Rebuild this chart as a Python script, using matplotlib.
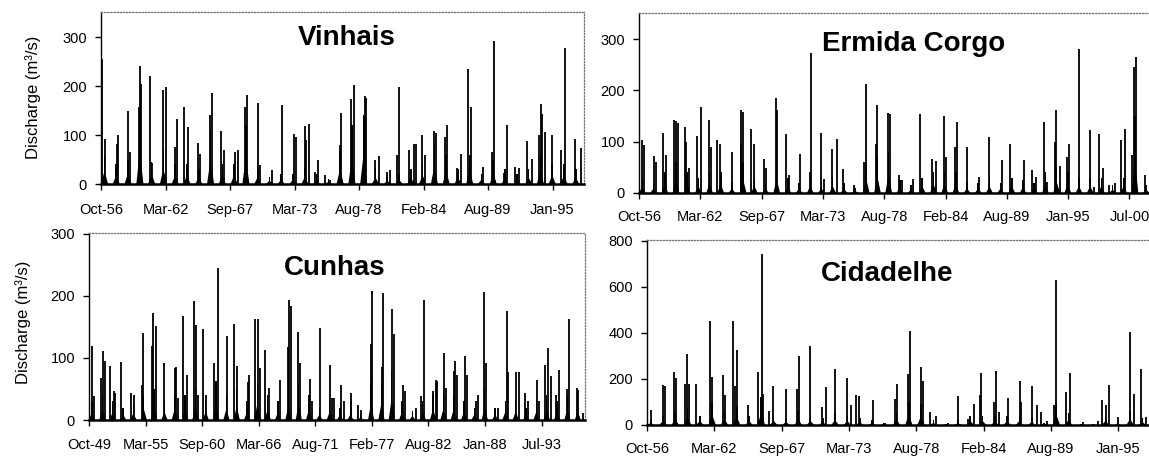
import numpy as np
import matplotlib
matplotlib.use("Agg")
import matplotlib.pyplot as plt

plt.rcParams['font.family'] = ['Liberation Sans', 'DejaVu Sans']

# ---- Vinhais (daily peaks, decimal year / m3/s) ----
vin_t = [1956.86, 1957.09, 1958.08, 1958.22, 1959.02, 1959.21, 1959.98, 1960.06, 1960.15, 1960.91,
         1961.06, 1962.05, 1962.25, 1963.04, 1963.18, 1963.83, 1964.17, 1965.02, 1965.16, 1966.01,
         1966.16, 1966.92, 1967.23, 1968.14, 1968.34, 1968.99, 1969.13, 1970.04, 1970.26, 1971.25,
         1972.10, 1973.10, 1973.32, 1974.03, 1974.14, 1974.43, 1974.88, 1975.16, 1975.73, 1976.21,
         1977.00, 1977.15, 1977.97, 1978.05, 1978.19, 1979.13, 1979.24, 1980.04, 1980.32, 1981.03,
         1981.25, 1981.88, 1982.08, 1982.93, 1983.35, 1983.49, 1984.00, 1984.29, 1984.99, 1985.19,
         1985.99, 1986.13, 1986.98, 1987.34, 1987.91, 1988.19, 1989.16, 1989.95, 1990.09, 1990.94,
         1991.23, 1991.93, 1992.22, 1992.93, 1993.35, 1993.92, 1994.06, 1994.20, 1994.48, 1995.05,
         1995.76, 1996.13, 1996.98, 1997.46]
vin_q = [255, 92, 82, 101, 148, 65, 157, 241, 204, 221,
         42, 192, 197, 76, 133, 157, 116, 84, 62, 140,
         185, 108, 70, 66, 69, 157, 182, 165, 38, 28,
         161, 103, 95, 118, 89, 123, 25, 50, 18, 8,
         79, 145, 174, 82, 203, 180, 176, 49, 57, 25,
         28, 59, 197, 70, 82, 81, 99, 59, 108, 104,
         96, 120, 32, 62, 234, 158, 35, 65, 292, 22,
         120, 35, 32, 88, 52, 99, 164, 143, 106, 99,
         69, 277, 92, 74]
# winter base flow level per hydrological year (Oct-56 ...)
vin_base = [60, 40, 50, 150, 45, 70, 40, 40, 30, 110, 40, 40, 120, 30, 15, 20, 20, 30, 20, 10,
            70, 120, 140, 30, 15, 20, 30, 40, 80, 60, 30, 60, 20, 50, 30, 20, 30, 60, 40, 40, 30]

# ---- Ermida Corgo ----
erm_t = [1957.05, 1957.20, 1958.09, 1958.24, 1958.89, 1959.13, 1959.88, 1960.02, 1960.23, 1960.83,
         1960.98, 1961.21, 1961.90, 1962.26, 1963.00, 1963.15, 1963.74, 1963.95, 1965.08, 1965.83,
         1965.89, 1966.07, 1966.72, 1967.02, 1967.91, 1968.12, 1968.95, 1969.10, 1969.90, 1970.14,
         1971.10, 1971.99, 1972.14, 1972.97, 1973.27, 1974.01, 1974.40, 1974.99, 1975.95, 1976.84,
         1976.99, 1977.88, 1978.03, 1979.01, 1979.13, 1979.96, 1980.20, 1981.24, 1981.81, 1982.94,
         1983.30, 1983.98, 1984.13, 1984.96, 1985.17, 1986.07, 1987.11, 1988.00, 1989.13, 1989.93,
         1991.13, 1991.87, 1992.17, 1992.91, 1993.21, 1993.89, 1994.01, 1994.31, 1994.99, 1995.14,
         1996.04, 1996.99, 1997.38, 1997.88, 1998.21, 1998.71, 1999.25, 1999.76, 2000.14, 2000.80,
         2000.95, 2001.10, 2001.99]
erm_q = [103, 93, 72, 61, 117, 74, 143, 140, 137, 128,
         100, 48, 111, 168, 143, 90, 104, 95, 80, 96,
         161, 158, 124, 95, 67, 48, 186, 161, 116, 35,
         76, 41, 274, 117, 28, 85, 106, 46, 16, 61,
         212, 96, 171, 156, 155, 35, 25, 28, 155, 67,
         63, 150, 71, 89, 139, 90, 32, 109, 64, 95,
         64, 45, 32, 139, 22, 100, 162, 53, 71, 95,
         281, 122, 12, 115, 48, 16, 19, 104, 124, 74,
         245, 265, 35]
erm_base = [30, 20, 40, 60, 40, 30, 40, 40, 20, 60, 30, 20, 60, 30, 20, 30, 20, 30, 20, 10,
            60, 70, 80, 25, 15, 30, 40, 40, 40, 20, 20, 30, 20, 30, 25, 20, 40, 50, 40, 30,
            30, 30, 15, 30, 150, 15]

# ---- Cunhas ----
cun_t = [1950.07, 1950.20, 1950.95, 1951.11, 1951.27, 1951.82, 1952.14, 1952.24, 1952.89, 1953.86,
         1954.09, 1954.90, 1954.99, 1955.80, 1955.96, 1956.19, 1957.03, 1958.07, 1958.16, 1958.39,
         1958.88, 1959.20, 1959.91, 1960.07, 1960.33, 1960.82, 1961.08, 1961.89, 1962.02, 1962.27,
         1963.08, 1963.83, 1964.12, 1965.12, 1965.28, 1965.83, 1966.06, 1966.25, 1966.81, 1967.13,
         1968.20, 1968.97, 1969.14, 1969.30, 1969.98, 1970.14, 1971.11, 1971.34, 1972.14, 1973.05,
         1973.28, 1973.44, 1974.15, 1974.41, 1975.06, 1975.15, 1975.77, 1976.03, 1977.00, 1977.16,
         1978.07, 1978.20, 1979.10, 1979.26, 1980.14, 1980.30, 1981.37, 1981.92, 1982.18, 1983.08,
         1983.31, 1983.47, 1984.12, 1984.28, 1985.03, 1985.19, 1985.35, 1986.13, 1986.32, 1987.19,
         1987.42, 1988.00, 1988.16, 1989.30, 1990.20, 1990.33, 1991.08, 1991.34, 1991.95, 1992.27,
         1993.08, 1993.25, 1993.92, 1994.15, 1994.47, 1994.90, 1995.19, 1996.03, 1996.16, 1997.00,
         1997.06, 1997.55]
cun_q = [119, 38, 67, 111, 95, 87, 46, 44, 94, 43,
         40, 57, 140, 119, 172, 151, 91, 84, 86, 35,
         167, 73, 192, 153, 40, 146, 40, 92, 62, 245,
         135, 155, 87, 61, 72, 163, 162, 83, 112, 51,
         64, 118, 193, 183, 141, 91, 66, 30, 148, 89,
         35, 35, 57, 30, 30, 43, 24, 16, 123, 208,
         86, 204, 178, 139, 56, 46, 20, 38, 193, 46,
         64, 62, 108, 52, 79, 95, 72, 103, 72, 31,
         41, 206, 91, 20, 175, 78, 78, 78, 43, 31,
         64, 31, 89, 116, 71, 40, 80, 50, 163, 51,
         48, 11]
cun_base = [30, 40, 30, 20, 25, 40, 50, 30, 40, 40, 50, 30, 60, 40, 50, 30, 60, 40, 30, 50,
            60, 40, 20, 30, 20, 20, 10, 60, 60, 80, 30, 15, 30, 40, 40, 40, 30, 20, 50, 20,
            30, 30, 20, 30, 40, 30, 40, 30]

# ---- Cidadelhe ----
cid_t = [1957.05, 1958.02, 1958.21, 1958.95, 1959.11, 1959.84, 1960.03, 1960.19, 1960.73, 1961.87,
         1962.01, 1962.96, 1963.09, 1963.77, 1963.90, 1964.09, 1964.99, 1965.80, 1966.07, 1966.21,
         1966.70, 1967.02, 1968.05, 1968.92, 1969.11, 1970.00, 1970.95, 1971.28, 1972.03, 1972.98,
         1973.31, 1973.74, 1974.01, 1975.15, 1976.10, 1976.91, 1977.05, 1978.00, 1978.13, 1979.08,
         1979.22, 1979.76, 1980.25, 1981.25, 1982.06, 1982.87, 1983.34, 1983.82, 1983.96, 1984.96,
         1985.12, 1985.39, 1986.13, 1987.08, 1987.21, 1988.08, 1988.48, 1988.84, 1989.30, 1989.87,
         1990.00, 1990.87, 1991.19, 1992.22, 1993.44, 1993.80, 1994.07, 1994.34, 1995.07, 1996.02,
         1996.37, 1996.97, 1997.37]
cid_q = [63, 174, 171, 229, 203, 179, 308, 179, 177, 450,
         207, 218, 128, 450, 171, 327, 88, 232, 741, 135,
         59, 169, 154, 157, 298, 344, 78, 164, 241, 203,
         85, 131, 125, 107, 10, 114, 179, 222, 409, 251,
         189, 56, 39, 7, 125, 27, 92, 128, 226, 99,
         236, 56, 118, 189, 99, 171, 85, 56, 16, 85,
         628, 143, 226, 13, 16, 107, 85, 174, 35, 402,
         135, 241, 35]
cid_base = [20, 40, 60, 80, 40, 100, 60, 80, 40, 120, 40, 30, 60, 40, 30, 50, 40, 30, 20, 10,
            50, 100, 90, 20, 5, 20, 40, 40, 40, 40, 40, 30, 10, 100, 50, 5, 5, 40, 10, 60, 30]

ticks_56 = ['Oct-56', 'Mar-62', 'Sep-67', 'Mar-73', 'Aug-78', 'Feb-84', 'Aug-89', 'Jan-95']
ticks_erm = ticks_56 + ['Jul-00']
ticks_49 = ['Oct-49', 'Mar-55', 'Sep-60', 'Mar-66', 'Aug-71', 'Feb-77', 'Aug-82', 'Jan-88', 'Jul-93']

W, H = 1149, 459
fig = plt.figure(figsize=(W / 100, H / 100), dpi=100)
fig.patch.set_facecolor('white')


def panel(box, t, q, base, start, end, ymax, ystep, labels, title, tpos, xpad):
    left, top, right, bottom = box
    ax = fig.add_axes([left / W, 1 - bottom / H, (right - left) / W, (bottom - top) / H])
    # winter clusters: narrow dark column with a wider skirt at the foot
    yrs = start + np.arange(len(base)) + 0.3
    base = np.array(base, dtype=float)
    ax.bar(yrs, base, width=0.14, color='black', zorder=2)
    for x, b in zip(yrs, base):
        ax.fill([x - 0.3, x, x + 0.3], [0, 0.45 * b, 0], color='black', lw=0, zorder=2)
    ax.vlines(t, 0, q, color='black', lw=1.3, zorder=3)
    ax.set_xlim(start, end)
    ax.set_ylim(0, ymax * 1.003)
    ax.set_xticks(start + np.arange(len(labels)) * 2000 / 365.25)
    ax.set_xticklabels(labels)
    ax.set_yticks(np.arange(0, ymax + 1, ystep))
    ax.tick_params(axis='x', direction='out', length=4, width=1, pad=xpad, labelsize=10.5)
    ax.tick_params(axis='y', direction='out', length=4, width=1, pad=6, labelsize=10.5)
    for s in ['top', 'right']:
        ax.spines[s].set_linestyle((0, (1, 1.5)))
        ax.spines[s].set_color('0.45')
        ax.spines[s].set_linewidth(0.9)
    ax.spines['left'].set_linewidth(1.0)
    ax.spines['bottom'].set_linewidth(1.8)
    fig.text(tpos[0] / W, 1 - tpos[1] / H, title, ha='center', va='baseline',
             fontsize=20, fontweight='bold')
    return ax


panel((101, 12, 584, 184), vin_t, vin_q, vin_base, 1956.75, 1997.75, 350, 100,
      ticks_56, 'Vinhais', (347, 45), 10)
panel((639, 13, 1154, 193), erm_t, erm_q, erm_base, 1956.75, 2002.75, 350, 100,
      ticks_erm, 'Ermida Corgo', (914, 51), 8)
panel((89, 233, 585, 420), cun_t, cun_q, cun_base, 1949.75, 1997.75, 300, 100,
      ticks_49, 'Cunhas', (335, 275), 9)
panel((647, 240, 1151, 425), cid_t, cid_q, cid_base, 1956.75, 1997.75, 800, 200,
      ticks_56, 'Cidadelhe', (887, 281), 8)

fig.text(33 / W, 1 - 97 / H, 'Discharge (m³/s)', rotation=90, ha='center', va='center', fontsize=12)
fig.text(23 / W, 1 - 322 / H, 'Discharge (m³/s)', rotation=90, ha='center', va='center', fontsize=12)

fig.savefig('out.png', dpi=100)
